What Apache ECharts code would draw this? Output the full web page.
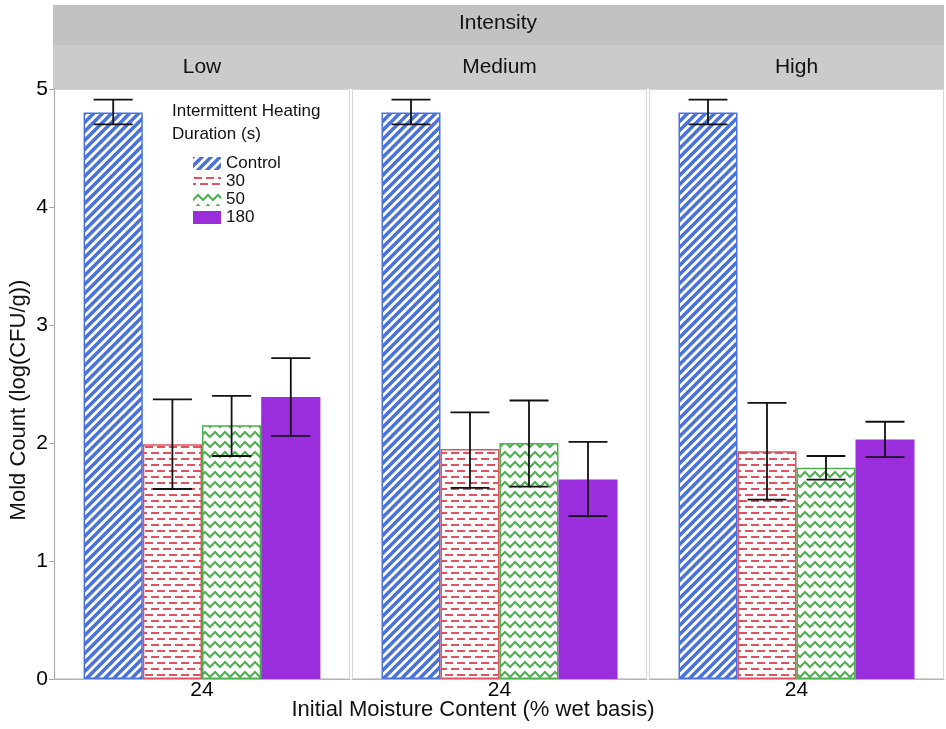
<!DOCTYPE html>
<html><head><meta charset="utf-8">
<script src="https://cdn.jsdelivr.net/npm/echarts@6/dist/echarts.min.js"></script>
<style>html,body{margin:0;padding:0;background:#fff}#c{width:946px;height:729px}</style>
</head><body><div id="c"></div>
<script>
// ---- data ----
const intensities = ['Low', 'Medium', 'High'];
const moistureLevels = ['24'];
const durations = ['Control', '30', '50', '180'];
const yTicks = [0, 1, 2, 3, 4, 5];

// means per duration, across intensities [Low, Medium, High]
const meanControl = [4.80, 4.80, 4.80];
const mean30 = [1.99, 1.95, 1.93];
const mean50 = [2.15, 2.00, 1.79];
const mean180 = [2.39, 1.69, 2.03];

// error bar lower ends
const lowControl = [4.70, 4.70, 4.70];
const low30 = [1.61, 1.62, 1.52];
const low50 = [1.89, 1.63, 1.69];
const low180 = [2.06, 1.38, 1.88];

// error bar upper ends
const highControl = [4.91, 4.91, 4.91];
const high30 = [2.37, 2.26, 2.34];
const high50 = [2.40, 2.36, 1.89];
const high180 = [2.72, 2.01, 2.18];

const means = [meanControl, mean30, mean50, mean180];
const lows = [lowControl, low30, low50, low180];
const highs = [highControl, high30, high50, high180];

// ---- styles ----
const FONT = '"Liberation Sans", Arial, sans-serif';
function mk(w, h, draw) {
  const c = document.createElement('canvas');
  c.width = w; c.height = h;
  const g = c.getContext('2d');
  g.fillStyle = '#ffffff'; g.fillRect(0, 0, w, h);
  draw(g);
  return { image: c, repeat: 'repeat' };
}
const patControl = mk(9, 9, g => {
  g.strokeStyle = '#4a72dc'; g.lineWidth = 3.5; g.beginPath();
  for (const o of [-9, 0, 9]) { g.moveTo(o - 1, 10); g.lineTo(o + 10, -1); }
  g.stroke();
});
const pat30 = mk(12, 12, g => {
  g.fillStyle = '#e0525f';
  g.fillRect(1, 2, 8, 2);
  g.fillRect(7, 8, 5, 2); g.fillRect(0, 8, 3, 2);
});
const pat50 = mk(10, 10, g => {
  g.strokeStyle = '#4cb04f'; g.lineWidth = 2; g.beginPath();
  g.moveTo(-5, 2); g.lineTo(0, 7); g.lineTo(5, 2); g.lineTo(10, 7); g.lineTo(15, 2);
  g.stroke();
});
const fills = [patControl, pat30, pat50, '#9b2edc'];
const borders = ['#4a72dc', '#e0525f', '#4cb04f', '#9b2edc'];

const panels = [[54, 296], [352, 295], [649, 295]];
const TOP = 89, BOTTOM_Y = 679;

const grids = panels.map(p => ({ left: p[0], width: p[1], top: TOP, height: BOTTOM_Y - TOP }));
const xAxes = panels.map((p, i) => ({
  type: 'category', gridIndex: i, data: moistureLevels,
  axisLine: { show: true, lineStyle: { color: '#b5b5b5', width: 1 } },
  axisTick: { show: false },
  axisLabel: { fontSize: 21, color: '#000', fontFamily: FONT, margin: 1 }
}));
const yAxes = panels.map((p, i) => ({
  type: 'value', gridIndex: i, min: yTicks[0], max: yTicks[yTicks.length - 1], interval: 1,
  splitLine: { show: false },
  axisLine: { show: i === 0, lineStyle: { color: '#aaaaaa', width: 1.2 } },
  axisTick: { show: i === 0, length: 5, lineStyle: { color: '#aaaaaa' } },
  axisLabel: { show: i === 0, fontSize: 21, color: '#000', fontFamily: FONT, margin: 6 }
}));

const series = [];
intensities.forEach((name, gi) => {
  durations.forEach((d, k) => {
    series.push({
      type: 'bar', name: d, xAxisIndex: gi, yAxisIndex: gi,
      data: [means[k][gi]], barGap: '0%', barCategoryGap: '20%',
      itemStyle: { color: fills[k], borderColor: borders[k], borderWidth: 1.5 },
      emphasis: { disabled: true }
    });
  });
  series.push({
    type: 'custom', name: 'err-' + name, xAxisIndex: gi, yAxisIndex: gi, z: 5,
    encode: { x: 0, y: [1, 2] },
    data: durations.map((d, k) => [0, lows[k][gi], highs[k][gi], k]),
    renderItem: (params, api) => {
      const k = api.value(3);
      const band = api.size([1, 0])[0];
      const bw = band * 0.8 / 4;
      const a = api.coord([0, api.value(1)]);
      const b = api.coord([0, api.value(2)]);
      const x = a[0] + (k - 1.5) * bw;
      const h = bw * 0.33;
      const st = { stroke: '#111', lineWidth: 1.8 };
      return { type: 'group', children: [
        { type: 'line', shape: { x1: x, y1: a[1], x2: x, y2: b[1] }, style: st },
        { type: 'line', shape: { x1: x - h, y1: a[1], x2: x + h, y2: a[1] }, style: st },
        { type: 'line', shape: { x1: x - h, y1: b[1], x2: x + h, y2: b[1] }, style: st }
      ] };
    }
  });
});

const graphics = [
  { type: 'rect', shape: { x: 53, y: 5, width: 891, height: 40 }, style: { fill: '#c2c2c2' }, z: 0 },
  { type: 'rect', shape: { x: 53, y: 45, width: 891, height: 44 }, style: { fill: '#cbcbcb' }, z: 0 },
  { type: 'text', x: 498, y: 23, style: { text: 'Intensity', font: '21px ' + FONT, fill: '#111', textAlign: 'center', textVerticalAlign: 'middle' } },
  { type: 'text', x: 19, y: 400, rotation: Math.PI / 2, style: { text: 'Mold Count (log(CFU/g))', font: '22px ' + FONT, fill: '#111', textAlign: 'center', textVerticalAlign: 'middle' } },
  { type: 'text', x: 473, y: 710, style: { text: 'Initial Moisture Content (% wet basis)', font: '22px ' + FONT, fill: '#111', textAlign: 'center', textVerticalAlign: 'middle' } },
  { type: 'text', x: 172, y: 100, style: { text: 'Intermittent Heating\nDuration (s)', font: '17px ' + FONT, lineHeight: 23, fill: '#111', textAlign: 'left', textVerticalAlign: 'top' } }
];
panels.forEach((p, i) => {
  graphics.push({ type: 'rect', shape: { x: p[0] + 0.5, y: TOP + 0.5, width: p[1] - 1, height: BOTTOM_Y - TOP - 1 }, style: { fill: null, stroke: '#d6d6d6', lineWidth: 1 }, z: 0 });
  graphics.push({ type: 'text', x: p[0] + p[1] / 2, y: 67, style: { text: intensities[i], font: '21px ' + FONT, fill: '#111', textAlign: 'center', textVerticalAlign: 'middle' } });
});

const chart = echarts.init(document.getElementById('c'), null, { renderer: 'canvas' });
chart.setOption({
  animation: false,
  backgroundColor: '#ffffff',
  grid: grids, xAxis: xAxes, yAxis: yAxes,
  legend: {
    data: durations.map(d => ({ name: d, icon: 'rect' })), orient: 'vertical', left: 188, top: 150,
    itemWidth: 28, itemHeight: 13, itemGap: 1,
    itemStyle: { borderWidth: 0 },
    textStyle: { fontSize: 17, color: '#111', fontFamily: FONT },
    selectedMode: false
  },
  graphic: graphics,
  series: series
});
</script>
</body></html>
